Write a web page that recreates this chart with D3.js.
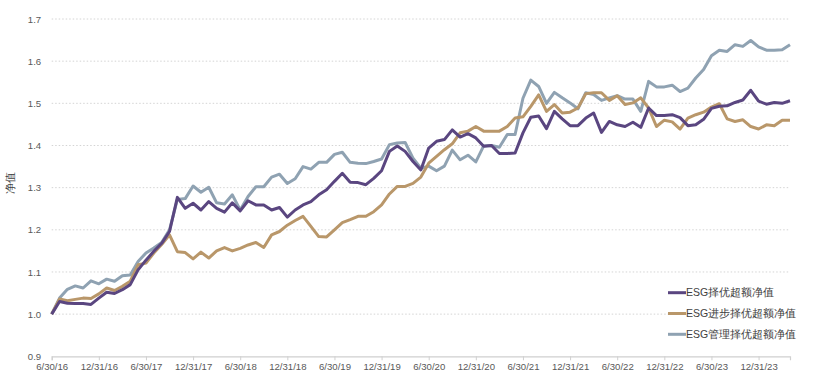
<!DOCTYPE html>
<html>
<head>
<meta charset="utf-8">
<script src="https://cdn.jsdelivr.net/npm/d3@7/dist/d3.min.js"></script>
<style>
  html, body { margin: 0; padding: 0; background: #fff; }
  svg { display: block; }
  text { font-family: "Liberation Sans", Arial, sans-serif; }
</style>
</head>
<body>
<svg id="chart" width="831" height="388"></svg>
<script>
// Tick labels (every 6 months), positioned at category index
const tickLabels = ["6/30/16","12/31/16","6/30/17","12/31/17","6/30/18","12/31/18","6/30/19","12/31/19","6/30/20","12/31/20","6/30/21","12/31/21","6/30/22","12/31/22","6/30/23","12/31/23"];
const tickIndex = [0,6,12,18,24,30,36,42,48,54,60,66,72,78,84,90];
const yTicks = [0.9,1.0,1.1,1.2,1.3,1.4,1.5,1.6,1.7];

const seriesNames = ["ESG择优超额净值","ESG进步择优超额净值","ESG管理择优超额净值"];

const esgSelect = [1.000,1.030,1.026,1.025,1.025,1.023,1.038,1.052,1.049,1.058,1.070,1.105,1.128,1.149,1.168,1.196,
1.277,1.251,1.263,1.247,1.267,1.251,1.242,1.264,1.245,1.269,1.259,1.259,1.247,1.253,1.230,1.247,
1.259,1.267,1.283,1.295,1.315,1.334,1.313,1.312,1.307,1.322,1.340,1.386,1.399,1.386,1.362,1.342,
1.394,1.410,1.414,1.437,1.420,1.428,1.418,1.398,1.400,1.381,1.381,1.382,1.430,1.467,1.470,1.440,
1.481,1.463,1.447,1.447,1.465,1.477,1.431,1.457,1.449,1.445,1.455,1.443,1.489,1.471,1.471,1.473,
1.466,1.447,1.449,1.462,1.488,1.493,1.494,1.502,1.508,1.531,1.505,1.498,1.502,1.500,1.506];

const esgProgress = [1.000,1.036,1.032,1.035,1.038,1.037,1.048,1.062,1.056,1.066,1.078,1.117,1.121,1.145,1.165,1.188,
1.148,1.146,1.131,1.147,1.133,1.150,1.158,1.150,1.156,1.164,1.170,1.158,1.188,1.196,1.211,1.222,
1.232,1.208,1.184,1.183,1.200,1.217,1.224,1.232,1.232,1.243,1.259,1.285,1.303,1.303,1.310,1.325,
1.358,1.374,1.390,1.404,1.430,1.434,1.445,1.434,1.434,1.434,1.445,1.465,1.468,1.493,1.520,1.481,
1.497,1.477,1.479,1.489,1.523,1.525,1.525,1.507,1.518,1.497,1.501,1.513,1.489,1.445,1.460,1.456,
1.439,1.465,1.473,1.479,1.491,1.499,1.463,1.457,1.461,1.445,1.439,1.449,1.447,1.460,1.460];

const esgGovern = [1.000,1.038,1.059,1.067,1.062,1.079,1.072,1.083,1.078,1.091,1.093,1.125,1.145,1.157,1.170,1.200,
1.272,1.274,1.304,1.289,1.301,1.264,1.261,1.283,1.247,1.279,1.302,1.302,1.325,1.332,1.310,1.321,
1.350,1.344,1.360,1.360,1.379,1.384,1.360,1.358,1.357,1.362,1.368,1.402,1.406,1.407,1.370,1.346,
1.351,1.340,1.351,1.389,1.366,1.377,1.361,1.399,1.400,1.396,1.426,1.426,1.512,1.555,1.540,1.500,
1.526,1.513,1.501,1.487,1.525,1.521,1.507,1.513,1.518,1.510,1.510,1.481,1.552,1.539,1.539,1.543,
1.528,1.536,1.560,1.580,1.613,1.626,1.623,1.639,1.635,1.649,1.634,1.626,1.626,1.627,1.639];

const colors = ["#5a4680","#b9976a","#8fa2b2"];

const svg = d3.select("#chart");
const mLeft = 51.7, mRight = 790, mTop = 19, mBottom = 356.3;
const n = esgSelect.length;

const x = d3.scaleLinear().domain([0, n - 1]).range([mLeft, mRight]);
const y = d3.scaleLinear().domain([0.9, 1.7]).range([mBottom, mTop]);

// gridlines
svg.append("g").selectAll("line")
  .data(yTicks.filter(t => t > 0.9))
  .join("line")
  .attr("x1", mLeft).attr("x2", mRight)
  .attr("y1", d => y(d)).attr("y2", d => y(d))
  .attr("stroke", "#d4d4d4").attr("stroke-width", 1)
  .attr("stroke-dasharray", "1.5,2");

// y axis labels
const yAxis = d3.axisLeft(y).tickValues(yTicks).tickFormat(d3.format(".1f")).tickSize(0).tickPadding(10.5);
const gy = svg.append("g").attr("transform", `translate(${mLeft},0)`).call(yAxis);
gy.select(".domain").remove();
gy.selectAll("text").attr("font-size", 9.6).attr("fill", "#595959")
  .attr("font-family", "'Liberation Sans', Arial, sans-serif");

// x axis
const xAxis = d3.axisBottom(x).tickValues(tickIndex)
  .tickFormat((d, i) => tickLabels[i]).tickSize(4).tickPadding(3);
const gx = svg.append("g").attr("transform", `translate(0,${mBottom})`).call(xAxis);
gx.select(".domain").attr("stroke", "#d0d0d0").attr("stroke-width", 1.2);
gx.selectAll(".tick line").attr("stroke", "#d0d0d0");
gx.selectAll("text").attr("font-size", 9.6).attr("fill", "#595959")
  .attr("font-family", "'Liberation Sans', Arial, sans-serif");

// y title
svg.append("text")
  .attr("transform", "translate(14,183) rotate(-90)")
  .attr("text-anchor", "middle")
  .attr("font-size", 10.5).attr("fill", "#404040")
  .attr("font-family", "'Noto Sans CJK SC', sans-serif")
  .text("净值");

// lines
const line = d3.line().x((d, i) => x(i)).y(d => y(d));
const allSeries = [esgSelect, esgProgress, esgGovern];
[2, 1, 0].forEach(k => {
  svg.append("path")
    .datum(allSeries[k])
    .attr("d", line)
    .attr("fill", "none")
    .attr("stroke", colors[k])
    .attr("stroke-width", 3)
    .attr("stroke-linejoin", "round");
});

// legend
const lg = svg.append("g");
seriesNames.forEach((name, k) => {
  const ly = 292.7 + k * 20.8;
  lg.append("line").attr("x1", 668).attr("x2", 686).attr("y1", ly).attr("y2", ly)
    .attr("stroke", colors[k]).attr("stroke-width", 3);
  lg.append("text").attr("x", 686).attr("y", ly).attr("dy", "0.35em")
    .attr("font-size", 10.5).attr("fill", "#404040")
    .attr("font-family", "'Noto Sans CJK SC', sans-serif")
    .text(name);
});
</script>
</body>
</html>
